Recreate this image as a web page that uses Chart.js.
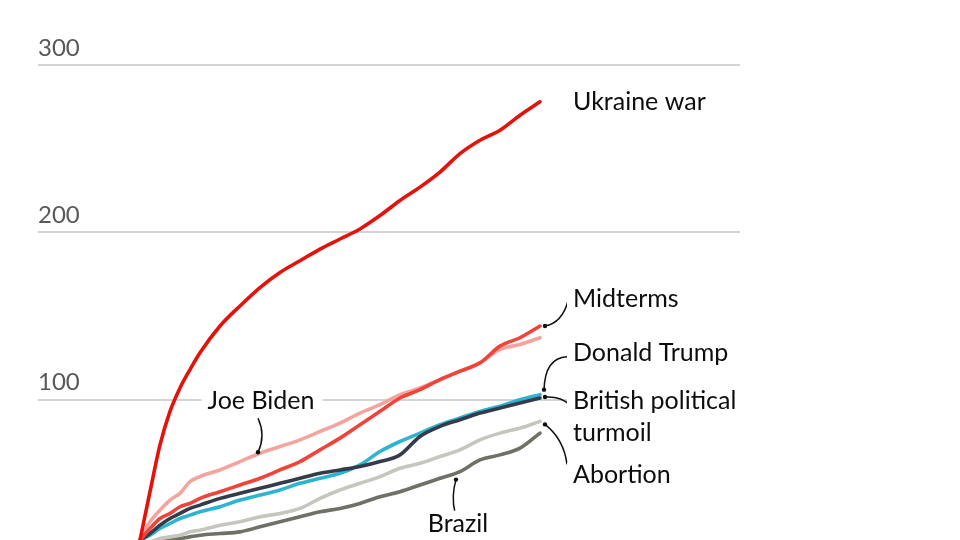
<!DOCTYPE html>
<html>
<head>
<meta charset="utf-8">
<script src="https://cdn.jsdelivr.net/npm/chart.js@4/dist/chart.umd.min.js"></script>
<style>
  html, body { margin: 0; padding: 0; background: #fff; }
  #wrap { width: 960px; height: 540px; overflow: hidden; position: relative; }
</style>
</head>
<body>
<div id="wrap"><canvas id="chart" width="960" height="600"></canvas></div>
<script>
// x positions of the readings (arbitrary time units, start = 0)
const days = [0, 2.5, 5, 7.5, 10, 12.5, 15, 20, 25, 30, 35, 40, 45, 50, 55, 60, 65, 70, 75, 80, 85, 90, 95, 100];

const ukraine  = [16, 45, 73, 93, 107, 118, 128, 144, 156, 167, 176, 183, 190, 196, 202, 210, 219, 227, 236, 247, 255, 261, 270, 278];
const midterms = [16, 23, 29, 32, 36, 38, 41, 45, 49, 53, 58, 63, 70, 77, 85, 93, 101, 106, 112, 117, 122, 132, 137, 144];
const biden    = [16, 27, 34, 40, 44, 51, 54, 58, 63, 68, 72, 76, 81, 86, 92, 97, 103, 107, 112, 117, 122, 130, 133, 137];
const british  = [16, 20, 25, 29, 32, 35, 37, 41, 44, 47, 50, 53, 56, 58, 60, 63, 67, 78, 84, 88, 92, 95, 98, 101];
const trump    = [16, 19, 23, 26, 29, 31, 33, 36, 40, 43, 46, 50, 53, 56, 61, 69, 75, 80, 85, 89, 93, 96, 100, 103];
const abortion = [14, 15, 17, 18, 19, 21, 22, 25, 27, 30, 32, 35, 41, 46, 50, 54, 59, 62, 66, 70, 76, 80, 83, 87];
const brazil   = [13, 14, 15, 16, 17, 18, 19, 20, 21, 24, 27, 30, 33, 35, 38, 42, 45, 49, 53, 57, 64, 67, 71, 80];

const yTicks = [0, 100, 200, 300];

const FONT = 'Lato, "Open Sans", sans-serif';

function series(label, values, color) {
  return {
    label,
    data: values.map((v, i) => ({ x: days[i], y: v })),
    borderColor: color,
    borderWidth: 3.6,
    pointRadius: 0,
    fill: false,
    cubicInterpolationMode: 'monotone',
    borderCapStyle: 'round',
    borderJoinStyle: 'round',
  };
}

// label text + leader layout, relative to the series' end point (or a given point)
const endLabels = {
  'Ukraine war': { lines: ['Ukraine war'], dy: 0 },
  'Midterms': { lines: ['Midterms'], dy: -27, dot: [5, 0], ctrl: [22, -3], to: [28, -25] },
  'Donald Trump': { lines: ['Donald Trump'], dy: -42, dot: [4, -5], ctrl: [5, -37], to: [27, -38] },
  'British political turmoil': { lines: ['British political', 'turmoil'], dy: 3, dot: [5, -1], ctrl: [21, -2], to: [30, 7] },
  'Abortion': { lines: ['Abortion'], dy: 54, dot: [5, 3], ctrl: [24, 18], to: [27, 43] },
};
const inlineLabels = {
  'Joe Biden': { index: 9, text: [1, -52], from: [-2, -35], ctrl: [6, -18], dot: [-2, -1] },
  'Brazil': { index: 19, text: [-2, 52], from: [-5, 41], ctrl: [-9, 25], dot: [-4, 8] },
};

const labelPlugin = {
  id: 'labels',
  afterDatasetsDraw(chart) {
    const ctx = chart.ctx;
    ctx.save();
    ctx.font = '25px ' + FONT;
    ctx.textBaseline = 'middle';
    ctx.lineWidth = 1.5;
    ctx.strokeStyle = '#111';
    ctx.fillStyle = '#111';

    const dot = (x, y) => { ctx.beginPath(); ctx.arc(x, y, 2.2, 0, Math.PI * 2); ctx.fill(); };
    const boxText = (t, x, y, align) => {
      const w = ctx.measureText(t).width;
      const left = align === 'center' ? x - w / 2 : x;
      ctx.fillStyle = '#fff';
      ctx.fillRect(left - 6, y - 13, w + 14, 26);
      ctx.fillStyle = '#0d0d0d';
      ctx.textAlign = align;
      ctx.fillText(t, x, y);
    };

    chart.data.datasets.forEach((ds, di) => {
      const meta = chart.getDatasetMeta(di);
      const e = endLabels[ds.label];
      if (e) {
        const p = meta.data[meta.data.length - 1];
        if (e.dot) {
          dot(p.x + e.dot[0], p.y + e.dot[1]);
          ctx.beginPath();
          ctx.moveTo(p.x + e.dot[0], p.y + e.dot[1]);
          ctx.quadraticCurveTo(p.x + e.ctrl[0], p.y + e.ctrl[1], p.x + e.to[0], p.y + e.to[1]);
          ctx.stroke();
        }
        e.lines.forEach((t, i) => boxText(t, p.x + 33, p.y + e.dy + i * 32, 'left'));
      }
      const n = inlineLabels[ds.label];
      if (n) {
        const p = meta.data[n.index];
        ctx.beginPath();
        ctx.moveTo(p.x + n.from[0], p.y + n.from[1]);
        ctx.quadraticCurveTo(p.x + n.ctrl[0], p.y + n.ctrl[1], p.x + n.dot[0], p.y + n.dot[1]);
        ctx.stroke();
        dot(p.x + n.dot[0], p.y + n.dot[1]);
        boxText(ds.label, p.x + n.text[0], p.y + n.text[1], 'center');
      }
    });
    ctx.restore();
  },
};

new Chart(document.getElementById('chart'), {
  type: 'line',
  data: {
    datasets: [
      series('Ukraine war', ukraine, '#e3120b'),
      series('Midterms', midterms, '#f0443b'),
      series('Joe Biden', biden, '#f5a49d'),
      series('British political turmoil', british, '#363b4a'),
      series('Donald Trump', trump, '#2db4cf'),
      series('Abortion', abortion, '#c5c7be'),
      series('Brazil', brazil, '#6e7166'),
    ],
  },
  options: {
    responsive: false,
    animation: false,
    devicePixelRatio: 1,
    layout: { padding: { left: 38, right: 220, top: 31.5, bottom: 33 } },
    plugins: { legend: { display: false }, tooltip: { enabled: false } },
    scales: {
      x: { type: 'linear', min: -25.5, max: 150, display: false },
      y: {
        min: 0,
        max: 320,
        afterBuildTicks: (scale) => { scale.ticks = yTicks.map(v => ({ value: v })); },
        border: { display: false },
        grid: { color: '#d4d4d4', lineWidth: 2, drawTicks: false },
        ticks: {
          mirror: true,
          padding: 0,
          labelOffset: -17,
          color: '#595959',
          font: { family: FONT, size: 24 },
        },
      },
    },
  },
  plugins: [labelPlugin],
});
</script>
</body>
</html>
